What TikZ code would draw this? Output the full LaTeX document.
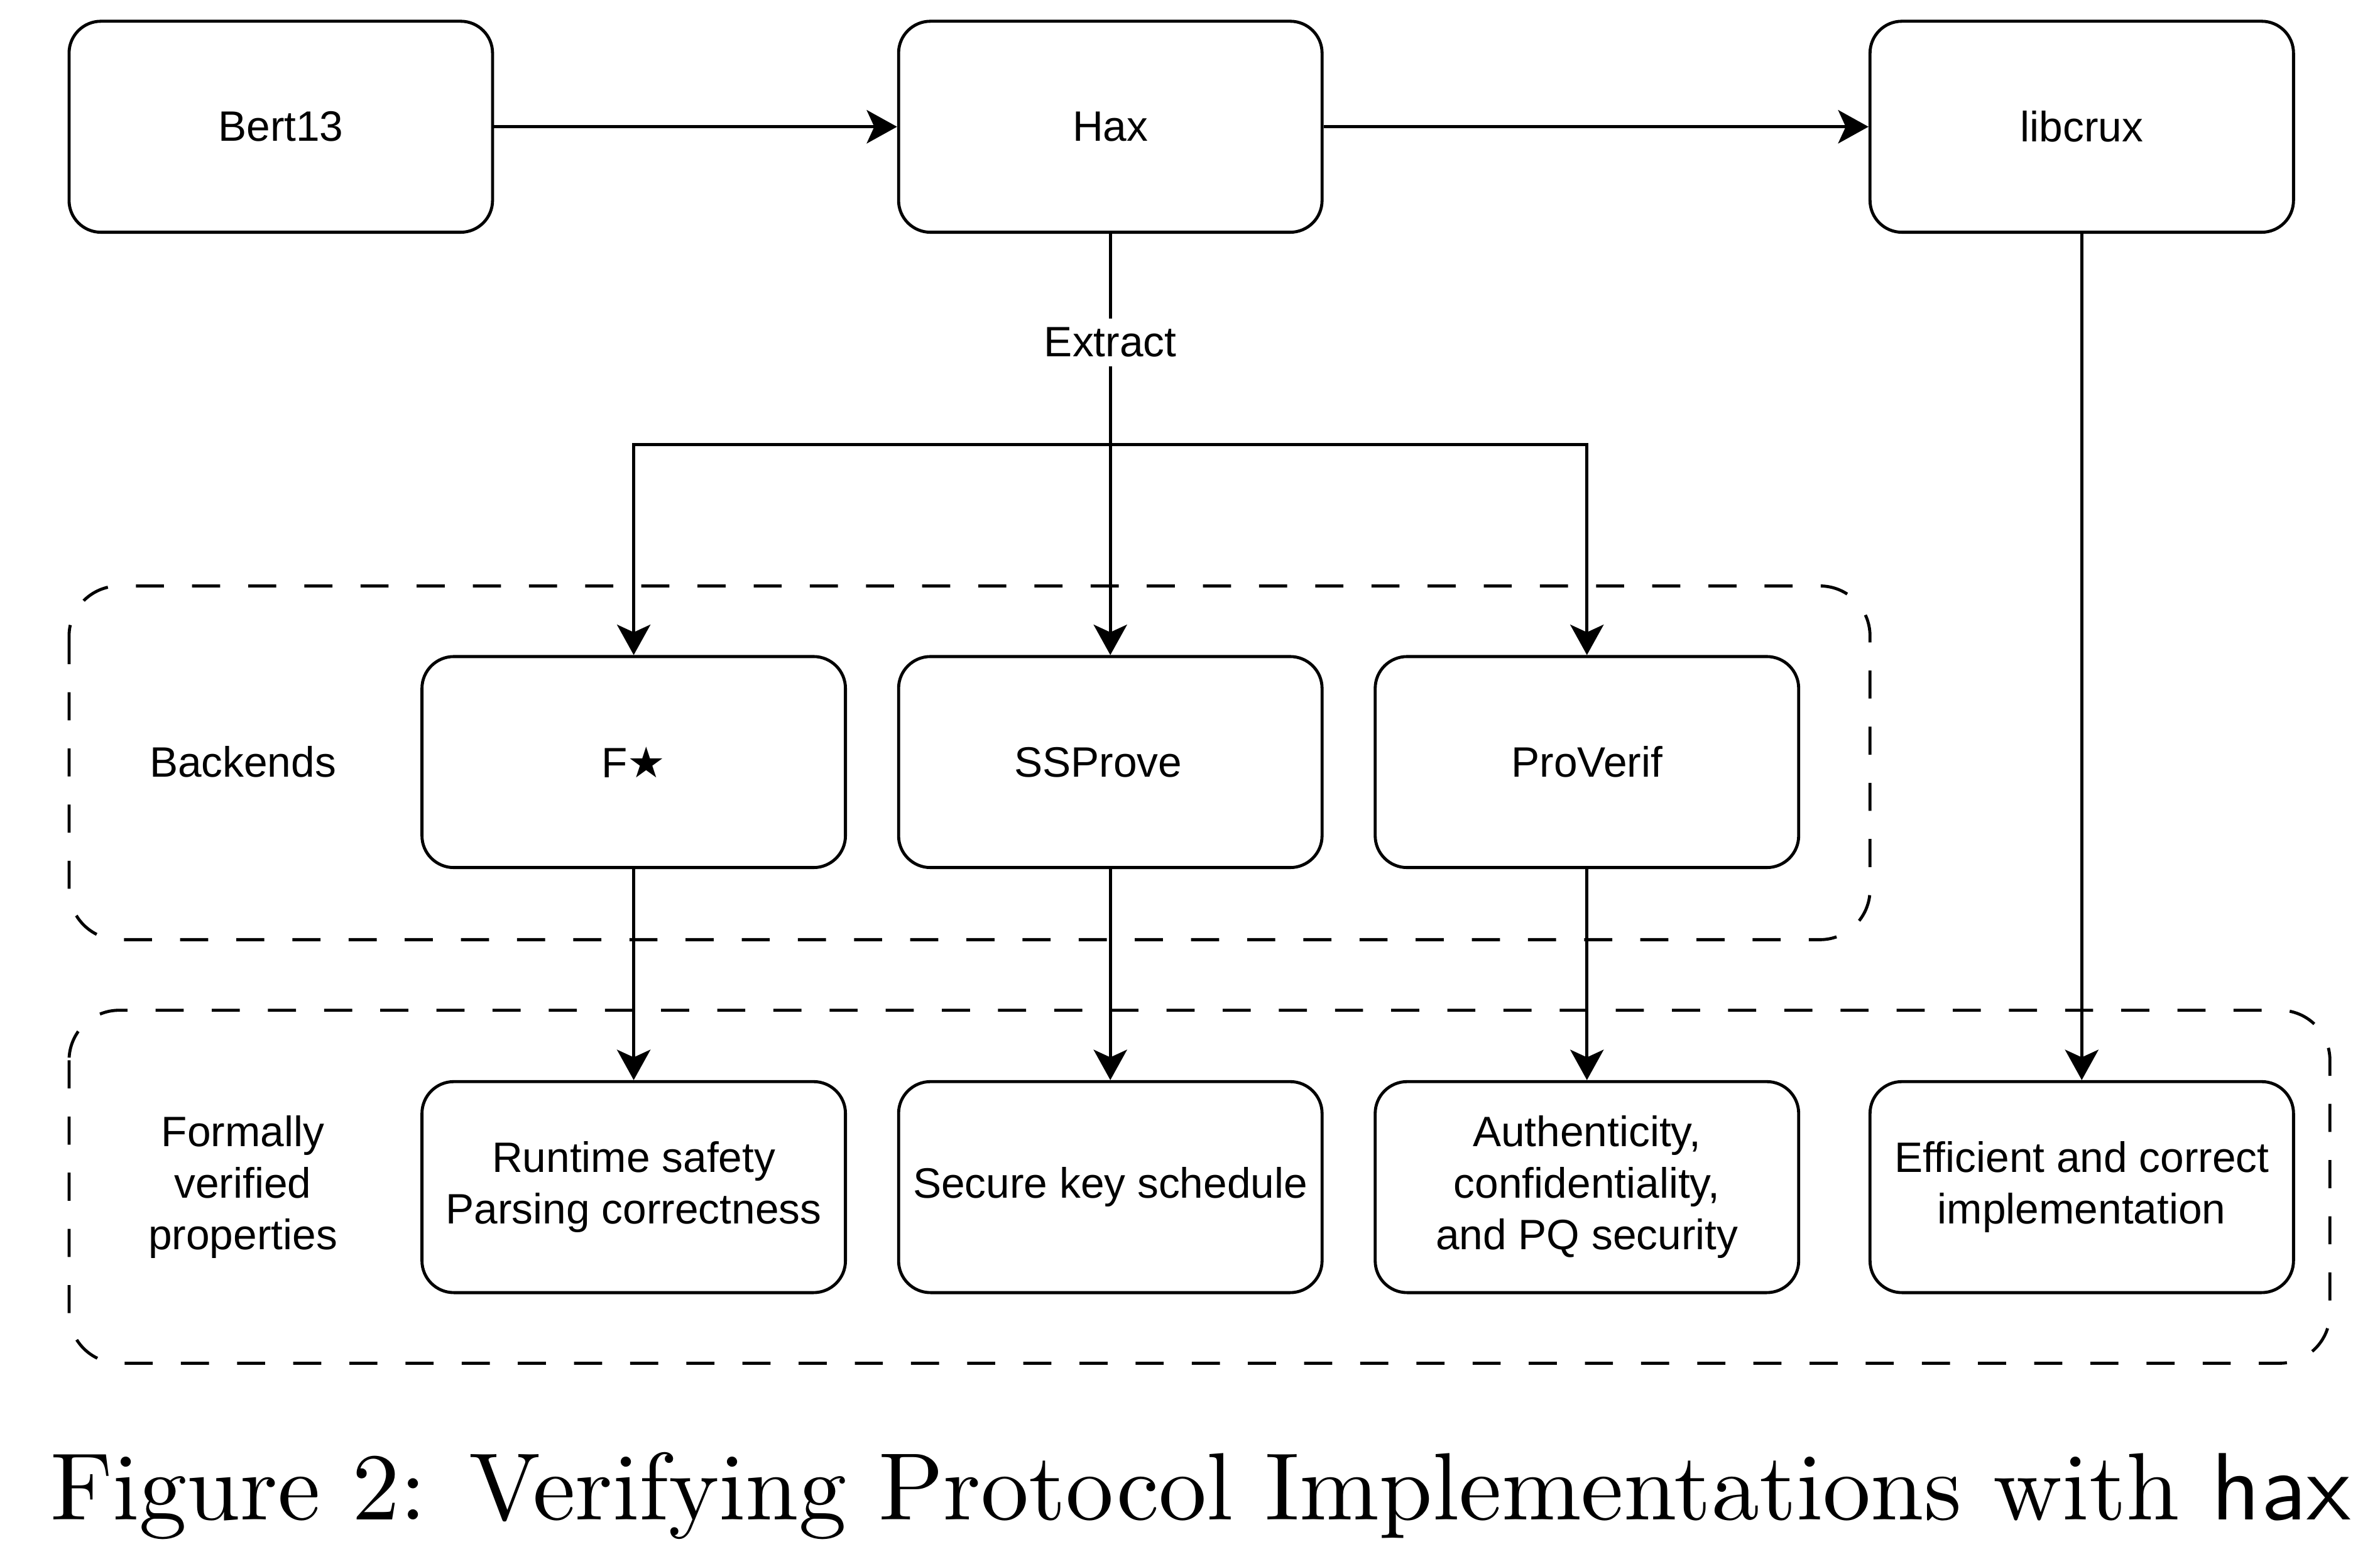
\documentclass[tikz,border=0pt]{standalone}
\usepackage{fontspec}
\usepackage{tikz}
\usetikzlibrary{arrows.meta}
\newfontfamily\boxfont{Liberation Sans}
\newfontfamily\starfont{DejaVu Sans}
\newfontfamily\capfont{lmroman10-regular.otf}
\newfontfamily\capsans{lmsans10-regular.otf}

\tikzset{
  box/.style={rectangle, rounded corners=10.5pt, draw, minimum width=139.5pt, minimum height=69.5pt, align=center, inner sep=2pt, font=\boxfont\fontsize{14}{17}\selectfont},
  txt/.style={align=center, font=\boxfont\fontsize{14}{17}\selectfont},
  group/.style={rounded corners=16.5pt, dash pattern=on 9.25pt off 9.25pt},
}

\begin{document}
\begin{tikzpicture}[x=0.5pt, y=-0.5pt, line width=1pt, >={Stealth[length=10pt,width=11pt,inset=2.5pt]}]
\useasboundingbox (0,0) rectangle (1568,1026.6);
% dashed groups
\draw[group] (45.5,386) rectangle (1232,619);
\draw[group] (45.5,665.5) rectangle (1535,898);

\node (bert) at (185,83.5) [box] {Bert13};
\node (hax) at (731.5,83.5) [box] {Hax} 			edge[<-] (bert);
\node (libcrux) at (1371.5,83.5) [box] {libcrux} 		edge[<-] (hax);

\node (backends) at (160,502) [txt] {Backends};
	\node (fstar) at (417.5,502) [box] {F{\starfont ★}};
	\node (ssprove) at (731.5,502) [box] {SSProve\hspace*{8pt}} 	edge[<-] node[pos=0.742, txt, fill=white, inner sep=3pt] {Extract} (hax);
	\node (proverif) at (1045.5,502) [box] {ProVerif};
\coordinate (split) at (731.5,293);
\draw[->] (split) -| (fstar);
\draw[->] (split) -| (proverif);

\node (formal) at (160,782) [txt] {Formally\\verified\\properties};
	\node (runtime) at (417.5,782) [box] {Runtime safety\\Parsing correctness} 		edge[<-] (fstar);
	\node (keysched) at (731.5,782) [box] {Secure key schedule} 		edge[<-] (ssprove);
	\node (authent) at (1045.5,782) [box] {Authenticity,\\confidentiality,\\and PQ security} 		edge[<-] (proverif);
	\node (efficient) at (1371.5,782) [box] {Efficient and correct\\implementation} 		edge[<-] (libcrux);

\node (caption) at (791,1001) [anchor=base, font=\capfont\fontsize{31.5}{38}\selectfont] {Figure 2: Verifying Protocol Implementations with {\capsans hax}};
\end{tikzpicture}
\end{document}
